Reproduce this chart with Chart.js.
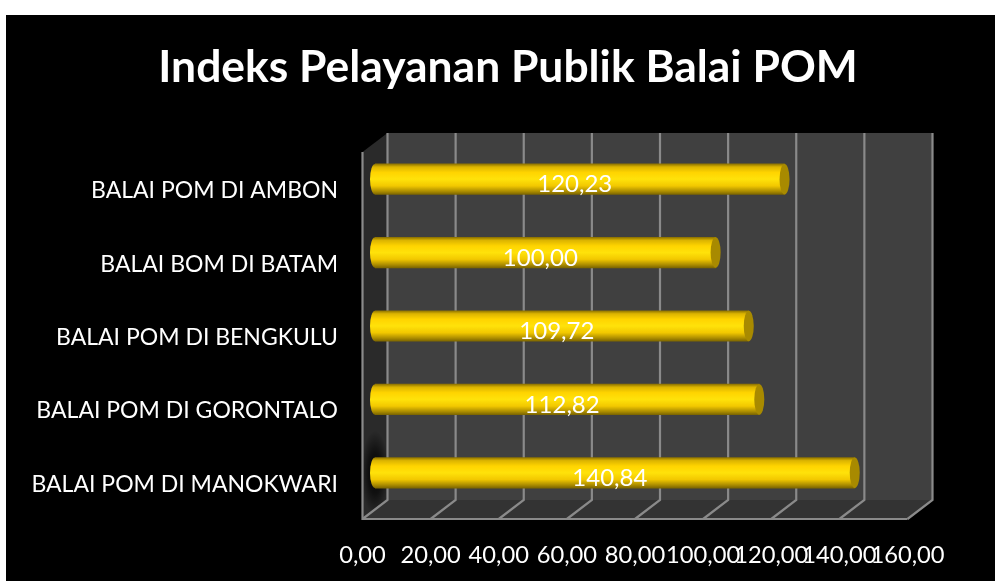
<!DOCTYPE html>
<html>
<head>
<meta charset="utf-8">
<title>Indeks Pelayanan Publik Balai POM</title>
<script src="https://cdn.jsdelivr.net/npm/chart.js@4"></script>
<style>
    html, body { margin: 0; padding: 0; background: #fff; }
    #wrap { position: absolute; left: 6px; top: 15px; width: 989px; height: 566px; background: #000; }
    canvas { display: block; }
</style>
</head>
<body>
<div id="wrap"><canvas id="balaiChart" width="989" height="566"></canvas></div>
<script>
const categories = ['BALAI POM DI AMBON', 'BALAI BOM DI BATAM', 'BALAI POM DI BENGKULU', 'BALAI POM DI GORONTALO', 'BALAI POM DI MANOKWARI'];
const indexValues = [120.23, 100.00, 109.72, 112.82, 140.84];
const titleText = 'Indeks Pelayanan Publik Balai POM';

const FONT = 'Lato, Carlito, sans-serif';
// half of the fake 3D depth, bars sit in the middle of the box
const DEPTH_X = 12.5;
const DEPTH_Y = 9.5;

function fmt(v) {
    return v.toFixed(2).replace('.', ',');
}

function barGradient(ctx, top, bottom) {
    const g = ctx.createLinearGradient(0, top, 0, bottom);
    g.addColorStop(0, '#8f7400');
    g.addColorStop(0.1, '#dcb400');
    g.addColorStop(0.28, '#ffd400');
    g.addColorStop(0.5, '#ffe20a');
    g.addColorStop(0.72, '#f2c800');
    g.addColorStop(0.9, '#ab8c00');
    g.addColorStop(1, '#7d6600');
    return g;
}

// walls, floor and gridlines of the box
const boxPlugin = {
    id: 'box',
    beforeDatasetsDraw(chart) {
        const { ctx, chartArea: a, scales: { x } } = chart;
        const backL = a.left + DEPTH_X, backR = a.right + DEPTH_X;
        const frontL = a.left - DEPTH_X, frontR = a.right - DEPTH_X;
        const backT = a.top - DEPTH_Y, backB = a.bottom - DEPTH_Y;
        const frontT = a.top + DEPTH_Y, frontB = a.bottom + DEPTH_Y;

        ctx.save();
        ctx.fillStyle = '#404040';
        ctx.fillRect(backL, backT, backR - backL, backB - backT);

        ctx.save();
        ctx.beginPath();
        ctx.moveTo(frontL, frontT);
        ctx.lineTo(backL, backT);
        ctx.lineTo(backL, backB);
        ctx.lineTo(frontL, frontB);
        ctx.closePath();
        ctx.fillStyle = '#2a2a2a';
        ctx.fill();
        ctx.clip();
        // shadow the longest bar throws on the side wall
        const last = chart.getDatasetMeta(0).data[categories.length - 1];
        ctx.translate(last.base, last.y);
        ctx.scale(1, 3);
        const shadow = ctx.createRadialGradient(0, 0, 0, 0, 0, 14);
        shadow.addColorStop(0, 'rgba(0,0,0,0.95)');
        shadow.addColorStop(0.5, 'rgba(0,0,0,0.6)');
        shadow.addColorStop(1, 'rgba(0,0,0,0)');
        ctx.fillStyle = shadow;
        ctx.fillRect(-20, -20, 40, 40);
        ctx.restore();

        ctx.fillStyle = '#333333';
        ctx.beginPath();
        ctx.moveTo(frontL, frontB);
        ctx.lineTo(backL, backB);
        ctx.lineTo(backR, backB);
        ctx.lineTo(frontR, frontB);
        ctx.closePath();
        ctx.fill();

        ctx.strokeStyle = '#8a8a8a';
        ctx.lineWidth = 2.2;
        x.ticks.forEach(t => {
            const px = x.getPixelForValue(t.value);
            ctx.beginPath();
            ctx.moveTo(px - DEPTH_X, frontB);
            ctx.lineTo(px + DEPTH_X, backB);
            ctx.lineTo(px + DEPTH_X, backT);
            ctx.stroke();
        });
        ctx.beginPath();
        ctx.moveTo(frontL, frontT);
        ctx.lineTo(frontL, frontB);
        ctx.lineTo(frontR, frontB);
        ctx.stroke();
        ctx.restore();
    },
    afterDatasetsDraw(chart) {
        const { ctx } = chart;
        const bars = chart.getDatasetMeta(0).data;
        ctx.save();
        bars.forEach((bar, i) => {
            const h = bar.height / 2;
            // rounded start of the cylinder
            ctx.fillStyle = barGradient(ctx, bar.y - h, bar.y + h);
            ctx.beginPath();
            ctx.ellipse(bar.base, bar.y, 5, h, 0, Math.PI / 2, Math.PI * 1.5);
            ctx.fill();
            // end cap
            ctx.fillStyle = '#a88a00';
            ctx.beginPath();
            ctx.ellipse(bar.x, bar.y, 5, h, 0, 0, Math.PI * 2);
            ctx.fill();
            // value label
            ctx.fillStyle = '#fff';
            ctx.font = '24px ' + FONT;
            ctx.textAlign = 'center';
            ctx.textBaseline = 'middle';
            ctx.fillText(fmt(indexValues[i]), (bar.base + bar.x) / 2 - 5, bar.y + 5.5);
        });
        ctx.restore();
    }
};

new Chart(document.getElementById('balaiChart').getContext('2d'), {
    type: 'bar',
    data: {
        labels: categories,
        datasets: [{
            data: indexValues,
            barThickness: 30.5,
            backgroundColor: c => {
                const { chartArea } = c.chart;
                if (!chartArea) return '#ffd200';
                const y = c.chart.scales.y.getPixelForValue(c.dataIndex);
                return barGradient(c.chart.ctx, y - 15.25, y + 15.25);
            }
        }]
    },
    options: {
        indexAxis: 'y',
        responsive: false,
        animation: false,
        // left padding only shifts the title's centre to the right
        layout: { padding: { left: 15 } },
        scales: {
            x: {
                min: 0,
                max: 160,
                position: 'bottom',
                afterFit: s => { s.height = 71.5; },
                grid: { display: false },
                border: { display: false },
                ticks: {
                    stepSize: 20,
                    labelOffset: -DEPTH_X,
                    maxRotation: 0,
                    autoSkip: false,
                    padding: 24,
                    color: '#fff',
                    font: { family: FONT, size: 23.7 },
                    callback: v => fmt(v)
                }
            },
            y: {
                afterFit: s => { s.width = 354; },
                grid: { display: false },
                border: { display: false },
                ticks: {
                    labelOffset: 11.5,
                    padding: 29,
                    color: '#fff',
                    font: { family: FONT, size: 23 }
                }
            },
            // empty axis, keeps room right of the box
            yRight: {
                type: 'linear',
                position: 'right',
                afterFit: s => { s.width = 75; },
                grid: { display: false },
                border: { display: false },
                ticks: { display: false }
            }
        },
        plugins: {
            legend: { display: false },
            tooltip: { enabled: false },
            title: {
                display: true,
                text: titleText,
                color: '#fff',
                font: { family: FONT, size: 44.4, weight: 'bold' },
                padding: { top: 26, bottom: 48.2 }
            }
        }
    },
    plugins: [boxPlugin]
});
</script>
</body>
</html>
